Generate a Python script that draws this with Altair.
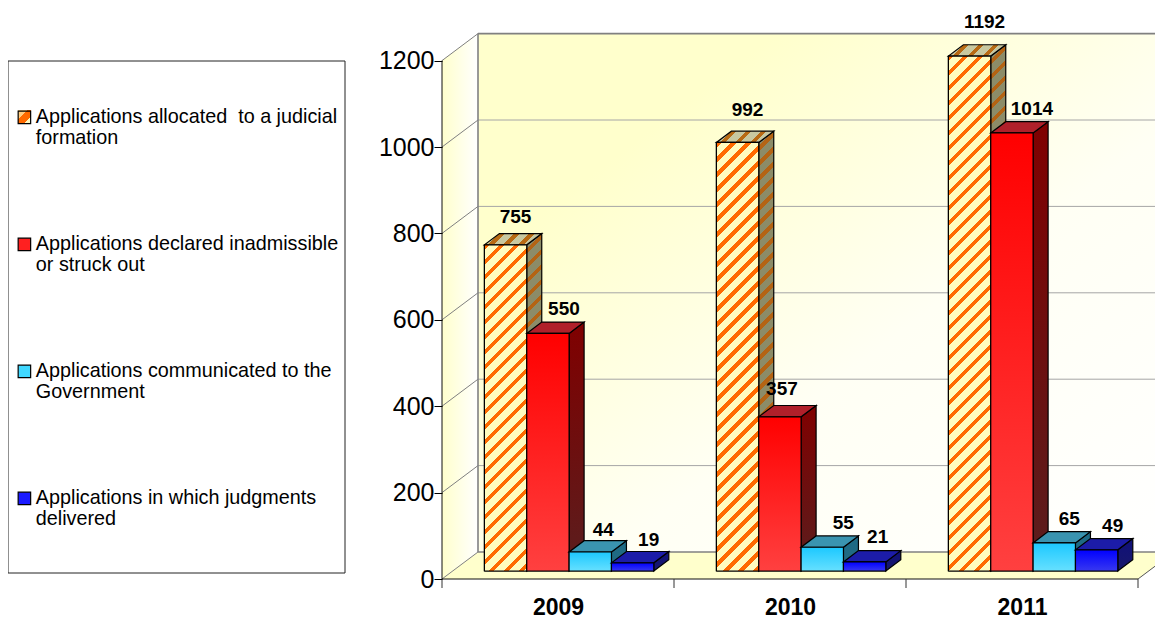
import altair as alt
import pandas as pd

# ---- values
YEARS = ["2009", "2010", "2011"]
SERIES = [
    "Applications allocated\u00a0 to a judicial|formation",
    "Applications declared inadmissible|or struck out",
    "Applications communicated to the|Government",
    "Applications in which judgments|delivered",
]
ALLOCATED = [755, 992, 1192]
DECLARED = [550, 357, 1014]
COMMUNICATED = [44, 55, 65]
JUDGMENTS = [19, 21, 49]
VALUES = [ALLOCATED, DECLARED, COMMUNICATED, JUDGMENTS]
TICKS = [0, 200, 400, 600, 800, 1000, 1200]

# ---- layout: pixels of the plot area, and the fake 3D projection
W, H = 1147, 610
X0, STEP = 434, 232          # axis origin and width of one year
Y0, K = 571, 0.432           # zero line of the axis, pixels per unit
BAR0, BARW = 42.4, 42.35     # first bar offset in a year, bar width
BAR_LIFT = 8                 # the bars stand this far behind the axis plane
WALL_DX, WALL_DY = 36, 27
BAR_DX, BAR_DY = 15, 11.3
FONT = "Liberation Sans"

px = 1 / STEP
pv = 1 / K
XDOM = [-X0 * px, (W - X0) * px]
YDOM = [(Y0 - H) * pv, Y0 * pv]
LIFT = BAR_LIFT * pv

FRONT = [None, ("#ff0000", "#ff4040"), ("#1cc8ff", "#66e0ff"), ("#0000ff", "#3838f0")]
SIDE = [None, ("#800000", "#5a1e1e"), ("#1c6a86", "#246a80"), ("#10107a", "#18186a")]
TOP = [None, "#b0202a", "#3a94b0", "#1c1ca8"]
# the first key is see-through: the hatched swatch below it shows
BASE = ["transparent", "#ff2020", "#40d8ff", "#1a1aff"]
LABEL_DX = [[10, 16, 13, 16], [10, 2, 21, 13], [15, 20, 15, 16]]
LABEL_DY = [[-17, -13, -11, -11], [-21, -16, -13, -14], [-23, -13, -13, -13]]

AXIS_X = alt.Axis(
    values=[0.5, 1.5, 2.5], ticks=False, domain=False, grid=False, title=None,
    labelExpr="['2009','2010','2011'][datum.value - 0.5]",
    labelFont=FONT, labelFontSize=23, labelFontWeight="bold", labelColor="#000000",
    labelPadding=3, offset=-25, labelFlush=False, labelOverlap=False, zindex=1,
)
AXIS_Y = alt.Axis(
    values=TICKS, format="d", domain=False, grid=False, title=None, tickColor="#000000",
    tickSize=8, tickWidth=1, labelFont=FONT, labelFontSize=25,
    labelColor="#000000", labelPadding=0, offset=-X0, labelFlush=False,
    labelOverlap=False, zindex=1,
)


def sx():
    return alt.X("x:Q", scale=alt.Scale(domain=XDOM, nice=False, zero=False), axis=AXIS_X)


def sy():
    return alt.Y("y:Q", scale=alt.Scale(domain=YDOM, nice=False, zero=False), axis=AXIS_Y)


X2 = alt.X2("x2:Q")
Y2 = alt.Y2("y2:Q")


def stripes(w, h, c1, c2, period=15.0, frac=0.36):
    """diagonal hard-stop gradient for a bounding box of w x h pixels"""
    c = (w + h) / (w * w + h * h)
    dt = period / (w + h)
    stops = []
    t = 0.0
    while t < 1.0:
        a = min(1.0, t + dt * frac)
        b = min(1.0, t + dt)
        stops += [
            {"offset": t, "color": c1},
            {"offset": a, "color": c1},
            {"offset": a, "color": c2},
            {"offset": b, "color": c2},
        ]
        t += dt
    return {"gradient": "linear", "x1": 0, "y1": 0, "x2": c * w, "y2": c * h, "stops": stops}


def vgrad(top, bottom):
    return {
        "gradient": "linear", "x1": 0, "y1": 0, "x2": 0, "y2": 1,
        "stops": [{"offset": 0, "color": top}, {"offset": 1, "color": bottom}],
    }


def bar_x(i, s):
    return i + (BAR0 + s * BARW) * px


def bar_rows(i, s):
    v = VALUES[s][i] + LIFT
    xa = bar_x(i, s)
    xb = xa + BARW * px
    d, e = BAR_DX * px, BAR_DY * pv
    front = [{"x": xa, "x2": xb, "y": LIFT, "y2": v}]
    side = [
        {"x": xb, "y": LIFT, "y2": v},
        {"x": xb + d, "y": LIFT + e, "y2": v + e},
    ]
    top = sorted(
        [
            {"x": xa, "y": v, "y2": v},
            {"x": xa + d, "y": v, "y2": v + e},
            {"x": xb, "y": v, "y2": v + e},
            {"x": xb + d, "y": v + e, "y2": v + e},
        ],
        key=lambda r: r["x"],
    )
    return front, side, top


def area(rows, fill, stroke="#000000", sw=1.2):
    kw = {"fill": fill, "strokeJoin": "miter", "orient": "vertical"}
    if stroke:
        kw.update(stroke=stroke, strokeWidth=sw)
    return alt.Chart(pd.DataFrame(rows)).mark_area(**kw).encode(x=sx(), y=sy(), y2=Y2)


layers = []

# ---- walls and floor
wd, we = WALL_DX * px, WALL_DY * pv
y_axis0 = 0
y_axis1 = 1200
XR = 3
wall_right = XDOM[1]

left_wall = [
    {"x": 0, "y": y_axis0, "y2": y_axis1},
    {"x": wd, "y": y_axis0 + we, "y2": y_axis1 + we},
]
back_wall = [
    {"x": wd, "y": y_axis0 + we, "y2": y_axis1 + we},
    {"x": wall_right, "y": y_axis0 + we, "y2": y_axis1 + we},
]
floor = [
    {"x": 0, "y": y_axis0, "y2": y_axis0},
    {"x": wd, "y": y_axis0, "y2": y_axis0 + we},
    {"x": XR, "y": y_axis0, "y2": y_axis0 + we},
    {"x": XR + wd, "y": y_axis0 + we, "y2": y_axis0 + we},
]
wall_fill = {
    "gradient": "linear", "x1": 0, "y1": 0, "x2": 1, "y2": 1,
    "stops": [
        {"offset": 0, "color": "#ffffcc"},
        {"offset": 0.22, "color": "#ffffcc"},
        {"offset": 0.6, "color": "#fffff4"},
        {"offset": 1, "color": "#ffffff"},
    ],
}
side_fill = {
    "gradient": "linear", "x1": 0, "y1": 0, "x2": 1, "y2": 0,
    "stops": [{"offset": 0, "color": "#ffffcc"}, {"offset": 1, "color": "#ffffff"}],
}
layers.append(area(left_wall, side_fill, None))
layers.append(area(back_wall, wall_fill, None))
layers.append(area(floor, "#ffffcc", None))

GRID = "#a6a6a6"
DARK = "#808080"
grid_df = pd.DataFrame(
    [{"x": wd, "x2": wall_right, "y": t + we} for t in TICKS[1:-1]]
)
layers.append(
    alt.Chart(grid_df).mark_rule(color=GRID, strokeWidth=1).encode(x=sx(), x2=X2, y=sy())
)
side_grid = []
for t in TICKS:
    side_grid += [
        {"x": 0, "y": t, "g": str(t)},
        {"x": wd, "y": t + we, "g": str(t)},
    ]
layers.append(
    alt.Chart(pd.DataFrame(side_grid)).mark_line(color=DARK, strokeWidth=1).encode(
        x=sx(), y=sy(), detail="g:N"
    )
)
heavy = pd.DataFrame(
    [
        {"x": wd, "x2": wall_right, "y": y_axis1 + we, "y2": y_axis1 + we},
        {"x": wd, "x2": wall_right, "y": y_axis0 + we, "y2": y_axis0 + we},
        {"x": wd, "x2": wd, "y": y_axis0 + we, "y2": y_axis1 + we},
    ]
)
layers.append(
    alt.Chart(heavy).mark_rule(color=DARK, strokeWidth=1.6).encode(x=sx(), x2=X2, y=sy(), y2=Y2)
)
floor_right = pd.DataFrame(
    [{"x": 3, "y": y_axis0, "g": "r"}, {"x": 3 + wd, "y": y_axis0 + we, "g": "r"}]
)
layers.append(
    alt.Chart(floor_right).mark_line(color="#555555", strokeWidth=1).encode(x=sx(), y=sy(), detail="g:N")
)

# ---- flat bars carry the legend; the shaded faces are painted over them
flat = []
for s, name in enumerate(SERIES):
    for i in range(3):
        r = bar_rows(i, s)[0][0]
        r["series"] = name
        flat.append(r)
legend = alt.Legend(
    orient="none", legendX=6.5, legendY=99.5, title=None, padding=0,
    symbolType="square", symbolSize=156, symbolStrokeColor="#000000", symbolStrokeWidth=1.2,
    labelExpr="split(datum.label, '|')",
    labelFont=FONT, labelFontSize=19.8, labelColor="#000000", labelLimit=0, labelOffset=1.5,
    rowPadding=85,
)
layers.append(
    alt.Chart(pd.DataFrame(flat)).mark_rect(stroke="#000000").encode(
        x=sx(), x2=X2, y=sy(), y2=Y2,
        color=alt.Color("series:N", legend=legend, scale=alt.Scale(domain=SERIES, range=BASE)),
    )
)

# axes lines of the front plane
ax = pd.DataFrame(
    [
        {"x": 0, "x2": 0, "y": y_axis0, "y2": y_axis1},
        {"x": 0, "x2": 3, "y": y_axis0, "y2": y_axis0},
    ]
)
layers.append(
    alt.Chart(ax).mark_rule(color="#111111", strokeWidth=1).encode(x=sx(), x2=X2, y=sy(), y2=Y2)
)
xt = pd.DataFrame([{"x": k, "y": y_axis0, "y2": y_axis0 - 9 * pv} for k in range(4)])
layers.append(
    alt.Chart(xt).mark_rule(color="#333333", strokeWidth=1).encode(x=sx(), y=sy(), y2=Y2)
)

# ---- bar faces
for s in range(4):
    for i in range(3):
        front, side, top = bar_rows(i, s)
        h = VALUES[s][i] * K
        if s == 0:
            ff = stripes(BARW, h, "#ff6a00", "#fffbbf")
            fs = stripes(BAR_DX, h + BAR_DY, "#b46414", "#8c8c68")
            ft = stripes(BARW + BAR_DX, BAR_DY, "#b86a14", "#c8c8a0")
        else:
            ff = vgrad(*FRONT[s])
            fs = vgrad(*SIDE[s])
            ft = TOP[s]
        layers.append(area(side, fs))
        layers.append(area(top, ft))
        layers.append(
            alt.Chart(pd.DataFrame(front)).mark_rect(fill=ff, stroke="#000000", strokeWidth=1.2).encode(
                x=sx(), x2=X2, y=sy(), y2=Y2
            )
        )

# ---- value labels
labels = []
for i in range(3):
    for s in range(4):
        v = VALUES[s][i]
        labels.append(
            {
                "x": bar_x(i, s) + (BARW / 2 + LABEL_DX[i][s]) * px,
                "y": v + LIFT + (BAR_DY - LABEL_DY[i][s]) * pv,
                "t": str(v),
            }
        )
layers.append(
    alt.Chart(pd.DataFrame(labels)).mark_text(
        font=FONT, fontSize=19, fontWeight="bold", color="#000000", baseline="middle"
    ).encode(x=sx(), y=sy(), text="t:N")
)

# ---- legend frame and the hatched key
one = pd.DataFrame([{"k": 1}])
layers.append(
    alt.Chart(one).mark_rect(fill="transparent", stroke="#222222", strokeWidth=1).encode(
        x=alt.value(0), x2=alt.value(337), y=alt.value(53), y2=alt.value(565)
    )
)
layers.append(
    alt.Chart(one).mark_rect(
        fill={
            "gradient": "linear", "x1": 0, "y1": 0, "x2": 1, "y2": 1,
            "stops": [
                {"offset": 0, "color": "#ffcc80"},
                {"offset": 0.35, "color": "#ffcc80"},
                {"offset": 0.35, "color": "#ff6a00"},
                {"offset": 0.75, "color": "#ff6a00"},
                {"offset": 0.75, "color": "#fff8c0"},
                {"offset": 1, "color": "#fff8c0"},
            ],
        },
    ).encode(x=alt.value(10), x2=alt.value(23), y=alt.value(102), y2=alt.value(115))
)

chart = (
    alt.layer(*layers)
    .properties(
        width=W, height=H, padding=0, autosize=alt.AutoSizeParams(type="none"),
        background="#ffffff",
    )
    .configure(style={"guide-label": {"lineHeight": 21}}, view=alt.ViewConfig(stroke=None))
)
chart.save("out.html", embed_options={"renderer": "svg", "actions": False})
